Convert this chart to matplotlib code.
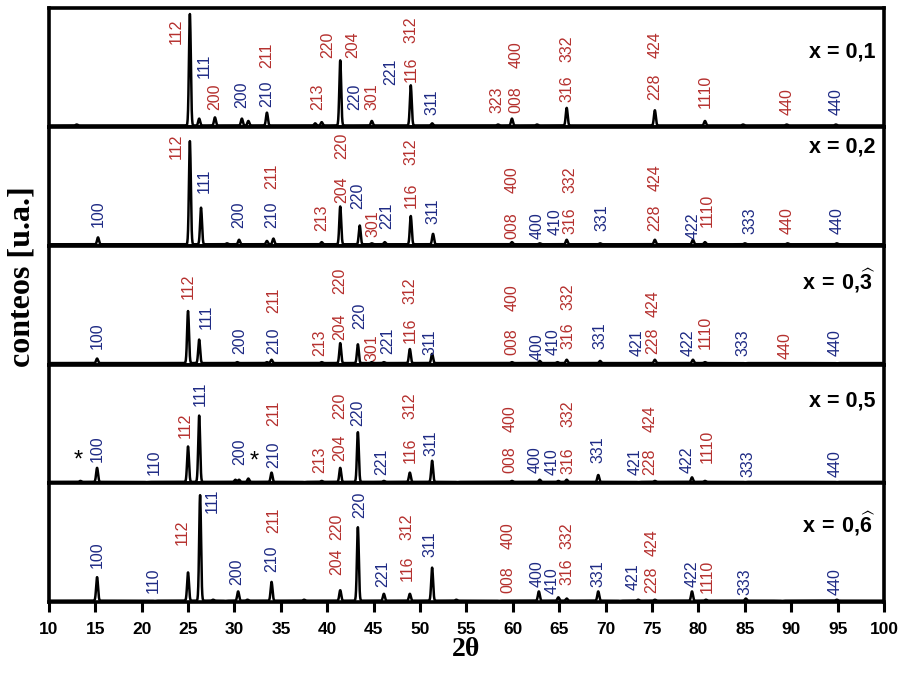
import matplotlib
matplotlib.use("Agg")
import matplotlib.pyplot as plt
import numpy as np
from matplotlib.transforms import blended_transform_factory

plt.rcParams['font.family'] = ['Liberation Sans', 'DejaVu Sans']
plt.rcParams['mathtext.fontset'] = 'custom'
plt.rcParams['mathtext.rm'] = 'Liberation Sans'
plt.rcParams['mathtext.bf'] = 'Liberation Sans:bold'

RED = "#b5302e"
BLUE = "#1e2a84"
COLS = {"r": RED, "b": BLUE}

# composition labels, top to bottom
compositions = ["x = 0,1", "x = 0,2", r"$\mathbf{x\,=\,0{,}}\widehat{\mathbf{3}}$",
                "x = 0,5", r"$\mathbf{x\,=\,0{,}}\widehat{\mathbf{6}}$"]
comp_y = [0.63, 0.83, 0.71, 0.69, 0.66]

# peak positions (2theta) and heights (fraction of panel) per sample
pos_01 = [13.0, 25.2, 26.2, 27.9, 30.8, 31.5, 33.5, 38.7, 39.4, 41.4, 44.8, 49.0,
          51.3, 58.4, 59.9, 62.6, 65.8, 75.3, 80.7, 84.8, 89.5, 94.8]
h_01 = [0.02, 0.95, 0.07, 0.08, 0.07, 0.05, 0.12, 0.03, 0.04, 0.56, 0.05, 0.35,
        0.03, 0.02, 0.07, 0.02, 0.16, 0.14, 0.05, 0.02, 0.02, 0.02]

pos_02 = [15.3, 25.2, 26.4, 29.2, 30.5, 33.5, 34.2, 39.4, 41.4, 43.5, 44.8, 46.2,
          49.0, 51.4, 59.9, 62.9, 65.8, 69.4, 75.3, 79.4, 80.7, 85.0, 89.6, 94.9]
h_02 = [0.07, 0.88, 0.32, 0.02, 0.05, 0.04, 0.06, 0.03, 0.33, 0.17, 0.02, 0.03,
        0.25, 0.10, 0.03, 0.02, 0.05, 0.02, 0.05, 0.05, 0.03, 0.02, 0.02, 0.02]

pos_03 = [15.2, 25.0, 26.2, 30.3, 33.5, 34.0, 39.4, 41.4, 43.3, 44.8, 46.1, 48.9,
          51.3, 59.9, 62.9, 64.8, 65.8, 69.4, 75.3, 79.4, 80.7, 85.0, 94.9]
h_03 = [0.05, 0.45, 0.21, 0.02, 0.02, 0.04, 0.02, 0.18, 0.17, 0.02, 0.02, 0.13,
        0.09, 0.02, 0.03, 0.02, 0.04, 0.03, 0.04, 0.04, 0.02, 0.01, 0.01]

pos_05 = [13.4, 15.2, 20.5, 25.0, 26.2, 30.1, 30.5, 31.5, 34.0, 37.5, 39.4, 41.4,
          43.3, 46.1, 48.9, 51.3, 54.0, 59.9, 62.9, 64.9, 65.8, 69.2, 73.5, 75.3,
          79.3, 80.7, 85.0, 94.9]
h_05 = [0.02, 0.13, 0.01, 0.31, 0.57, 0.03, 0.03, 0.04, 0.09, 0.01, 0.02, 0.13,
        0.43, 0.02, 0.09, 0.19, 0.01, 0.02, 0.03, 0.02, 0.03, 0.07, 0.01, 0.02,
        0.05, 0.02, 0.01, 0.01]

pos_06 = [15.2, 21.4, 25.0, 26.3, 27.7, 29.0, 30.4, 31.4, 34.0, 37.5, 41.4, 43.3,
          46.1, 48.9, 51.3, 53.9, 58.5, 62.8, 64.9, 65.8, 69.2, 71.5, 73.5, 75.3,
          79.3, 80.8, 85.1, 89.0, 94.9]
h_06 = [0.21, 0.01, 0.25, 0.90, 0.02, 0.01, 0.09, 0.02, 0.17, 0.02, 0.10, 0.63,
        0.07, 0.07, 0.29, 0.02, 0.01, 0.09, 0.04, 0.03, 0.09, 0.01, 0.02, 0.02,
        0.09, 0.02, 0.03, 0.01, 0.02]

# hkl labels: (text, 2theta, bottom y in panel fraction, colour)
lab_01 = [("112", 23.7, 0.70, "r"), ("111", 26.7, 0.41, "b"), ("200", 27.9, 0.14, "r"),
          ("200", 30.8, 0.16, "b"), ("210", 33.5, 0.17, "b"), ("211", 33.5, 0.50, "r"),
          ("213", 39.0, 0.14, "r"), ("220", 40.1, 0.58, "r"), ("204", 42.7, 0.58, "r"),
          ("220", 43.0, 0.14, "b"), ("301", 44.8, 0.14, "r"), ("221", 46.8, 0.35, "b"),
          ("116", 49.0, 0.38, "r"), ("312", 49.0, 0.71, "r"), ("311", 51.3, 0.10, "b"),
          ("323", 58.3, 0.12, "r"), ("008", 60.3, 0.12, "r"), ("400", 60.3, 0.50, "r"),
          ("316", 65.8, 0.21, "r"), ("332", 65.8, 0.55, "r"), ("228", 75.3, 0.23, "r"),
          ("424", 75.3, 0.58, "r"), ("1110", 80.7, 0.16, "r"), ("440", 89.5, 0.10, "r"),
          ("440", 94.8, 0.10, "b")]

lab_02 = [("100", 15.3, 0.16, "b"), ("112", 23.7, 0.73, "r"), ("111", 26.7, 0.44, "b"),
          ("200", 30.5, 0.15, "b"), ("210", 34.0, 0.15, "b"), ("211", 34.0, 0.48, "r"),
          ("213", 39.4, 0.12, "r"), ("204", 41.6, 0.36, "r"), ("220", 41.6, 0.73, "r"),
          ("220", 43.3, 0.31, "b"), ("301", 44.9, 0.07, "r"), ("221", 46.4, 0.14, "b"),
          ("116", 49.0, 0.32, "r"), ("312", 49.0, 0.68, "r"), ("311", 51.4, 0.18, "b"),
          ("008", 59.9, 0.06, "r"), ("400", 59.9, 0.44, "r"), ("400", 62.6, 0.06, "b"),
          ("410", 64.5, 0.09, "b"), ("316", 66.1, 0.10, "r"), ("332", 66.1, 0.44, "r"),
          ("331", 69.6, 0.12, "b"), ("228", 75.3, 0.12, "r"), ("424", 75.3, 0.46, "r"),
          ("422", 79.4, 0.06, "b"), ("1110", 80.9, 0.16, "r"), ("333", 85.5, 0.10, "b"),
          ("440", 89.6, 0.10, "r"), ("440", 94.9, 0.10, "b")]

lab_03 = [("100", 15.2, 0.13, "b"), ("112", 25.0, 0.55, "r"), ("111", 27.0, 0.30, "b"),
          ("200", 30.6, 0.09, "b"), ("210", 34.2, 0.09, "b"), ("211", 34.2, 0.43, "r"),
          ("213", 39.2, 0.07, "r"), ("204", 41.4, 0.21, "r"), ("220", 41.4, 0.59, "r"),
          ("220", 43.5, 0.30, "b"), ("301", 44.8, 0.03, "r"), ("221", 46.5, 0.09, "b"),
          ("116", 48.9, 0.18, "r"), ("312", 48.9, 0.51, "r"), ("311", 51.1, 0.08, "b"),
          ("008", 59.9, 0.08, "r"), ("400", 59.9, 0.45, "r"), ("400", 62.6, 0.04, "b"),
          ("410", 64.3, 0.08, "b"), ("316", 65.9, 0.13, "r"), ("332", 65.9, 0.46, "r"),
          ("331", 69.4, 0.13, "b"), ("421", 73.4, 0.07, "b"), ("228", 75.1, 0.09, "r"),
          ("424", 75.1, 0.40, "r"), ("422", 78.9, 0.07, "b"), ("1110", 80.7, 0.13, "r"),
          ("333", 84.8, 0.07, "b"), ("440", 89.3, 0.05, "r"), ("440", 94.7, 0.07, "b")]

lab_05 = [("100", 15.2, 0.18, "b"), ("110", 21.4, 0.07, "b"), ("112", 24.7, 0.38, "r"),
          ("111", 26.3, 0.65, "b"), ("200", 30.6, 0.15, "b"), ("210", 34.2, 0.13, "b"),
          ("211", 34.2, 0.48, "r"), ("213", 39.2, 0.09, "r"), ("204", 41.4, 0.19, "r"),
          ("220", 41.4, 0.54, "r"), ("220", 43.3, 0.48, "b"), ("221", 45.9, 0.07, "b"),
          ("116", 48.9, 0.17, "r"), ("312", 48.9, 0.54, "r"), ("311", 51.2, 0.23, "b"),
          ("008", 59.7, 0.09, "r"), ("400", 59.7, 0.43, "r"), ("400", 62.4, 0.09, "b"),
          ("410", 64.2, 0.07, "b"), ("316", 65.9, 0.08, "r"), ("332", 65.9, 0.47, "r"),
          ("331", 69.2, 0.17, "b"), ("421", 73.2, 0.07, "b"), ("228", 74.8, 0.07, "r"),
          ("424", 74.8, 0.43, "r"), ("422", 78.8, 0.09, "b"), ("1110", 80.9, 0.17, "r"),
          ("333", 85.3, 0.05, "b"), ("440", 94.7, 0.05, "b")]

lab_06 = [("100", 15.2, 0.29, "b"), ("110", 21.2, 0.08, "b"), ("112", 24.4, 0.48, "r"),
          ("111", 27.6, 0.75, "b"), ("200", 30.3, 0.14, "b"), ("210", 34.0, 0.25, "b"),
          ("211", 34.2, 0.58, "r"), ("204", 41.0, 0.23, "r"), ("220", 41.0, 0.52, "r"),
          ("220", 43.5, 0.71, "b"), ("221", 46.0, 0.13, "b"), ("116", 48.6, 0.18, "r"),
          ("312", 48.6, 0.52, "r"), ("311", 51.1, 0.38, "b"), ("008", 59.5, 0.08, "r"),
          ("400", 59.5, 0.45, "r"), ("400", 62.6, 0.13, "b"), ("410", 64.2, 0.07, "b"),
          ("316", 65.8, 0.14, "r"), ("332", 65.8, 0.45, "r"), ("331", 69.2, 0.13, "b"),
          ("421", 73.0, 0.10, "b"), ("228", 75.0, 0.08, "r"), ("424", 75.0, 0.39, "r"),
          ("422", 79.3, 0.13, "b"), ("1110", 80.9, 0.08, "r"), ("333", 85.0, 0.06, "b"),
          ("440", 94.7, 0.06, "b")]

# impurity marks (*) in x = 0,5
stars_05 = [(13.2, 0.19), (32.1, 0.18)]

positions = [pos_01, pos_02, pos_03, pos_05, pos_06]
heights = [h_01, h_02, h_03, h_05, h_06]
labels = [lab_01, lab_02, lab_03, lab_05, lab_06]

tth = np.arange(10, 100.001, 0.02)
base = 0.012
sigma = 0.1


def pattern(pos, h):
    y = np.full_like(tth, base)
    for p, a in zip(pos, h):
        y += (a - base) * np.exp(-0.5 * ((tth - p) / sigma) ** 2)
    return y


fig = plt.figure(figsize=(9.04, 6.75), dpi=100)
axes = fig.subplots(5, 1, sharex=True, gridspec_kw=dict(hspace=0))
fig.subplots_adjust(left=0.054, right=0.978, top=0.988, bottom=0.108)

for i, ax in enumerate(axes):
    ax.plot(tth, pattern(positions[i], heights[i]), color="k", lw=1.8)
    ax.set_xlim(10, 100)
    ax.set_ylim(0, 1)
    ax.set_yticks([])
    for sp in ax.spines.values():
        sp.set_linewidth(2.6)
    trans = blended_transform_factory(ax.transData, ax.transAxes)
    for txt, x, y, c in labels[i]:
        ax.text(x, y, txt, transform=trans, rotation=90, ha="center", va="bottom",
                color=COLS[c], fontsize=11.5)
    ax.text(0.99, comp_y[i], compositions[i], transform=ax.transAxes, ha="right",
            va="center", fontsize=15.5, fontweight="bold")
    if i < 4:
        ax.tick_params(axis="x", bottom=False, labelbottom=False)

trans4 = blended_transform_factory(axes[3].transData, axes[3].transAxes)
for x, y in stars_05:
    axes[3].text(x, y, "*", transform=trans4, ha="center", va="center",
                 fontsize=17, color="k")

ax = axes[-1]
ax.set_xticks(np.arange(10, 101, 5))
ax.tick_params(axis="x", direction="out", length=7, width=2.2, labelsize=12.5, pad=7)
for lb in ax.get_xticklabels():
    lb.set_fontweight("bold")
ax.set_xlabel("2θ", fontsize=20, fontweight="bold", family="Liberation Serif", labelpad=0)

fig.text(0.024, 0.59, "conteos [u.a.]", rotation=90, ha="center", va="center",
         fontsize=23, fontweight="bold", family="Liberation Serif")

fig.savefig("out.png", dpi=100)
